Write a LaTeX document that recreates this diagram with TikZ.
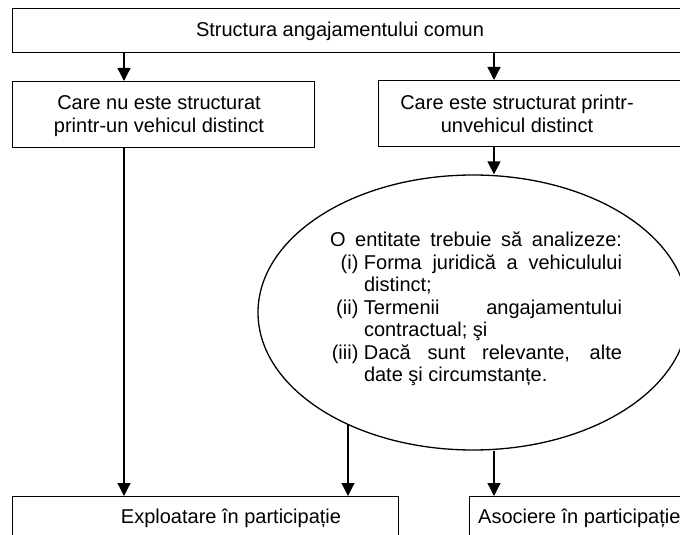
\documentclass[tikz,border=0pt]{standalone}
\usepackage{fontspec}
\setmainfont{Liberation Sans}
\usetikzlibrary{arrows.meta,shapes.geometric}
\begin{document}
\begin{tikzpicture}[x=1pt,y=-1pt,
  box/.style={draw, line width=1.3pt, inner sep=0pt, anchor=north west},
  txt/.style={font=\fontsize{20}{23}\selectfont, inner sep=0pt},
  arr/.style={-{Triangle[width=13pt,length=13pt]}, line width=1.3pt}]
\useasboundingbox (0,0) rectangle (680,535);
\clip (0,0) rectangle (680,535);
% boxes
\node[box, minimum width=678pt, minimum height=44pt] (top) at (12,8) {};
\node[box, minimum width=302pt, minimum height=66pt] (lb) at (12,81) {};
\node[box, minimum width=312pt, minimum height=66pt] (rb) at (378,80) {};
\node[box, minimum width=386pt, minimum height=60pt] (blb) at (12,496) {};
\node[box, minimum width=221pt, minimum height=60pt] (brb) at (469,496) {};
\node[draw, line width=1.3pt, ellipse, inner sep=0pt, minimum width=430pt, minimum height=275pt] (ell) at (473,312.5) {};
% texts
\node[txt, anchor=base] (toptxt) at (340,37) {Structura angajamentului comun};
\node[txt, align=center] (lbtxt) at (159,116) {Care nu este structurat\\printr-un vehicul distinct};
\node[txt, align=center] (rbtxt) at (517,114) {Care este structurat printr-\\unvehicul distinct};
\node[txt, anchor=base] (blbtxt) at (231,523) {Exploatare în participație};
\node[txt, anchor=base west] (brbtxt) at (478,523) {Asociere în participație};
\node[txt, font=\fontsize{20}{22.5}\selectfont, align=left] (elltxt) at (476,309) {%
\makebox[292pt][s]{O entitate trebuie să analizeze:}\\
\makebox[34pt][r]{(i)\ }\makebox[258pt][s]{Forma juridică a vehiculului}\\
\hspace*{34pt}distinct;\\
\makebox[34pt][r]{(ii)\ }\makebox[258pt][s]{Termenii angajamentului}\\
\hspace*{34pt}contractual; şi\\
\makebox[34pt][r]{(iii)\ }\makebox[258pt][s]{Dacă sunt relevante, alte}\\
\hspace*{34pt}date şi circumstanțe.};
% connectors
\coordinate (xL) at (124,0);
\coordinate (xR) at (494,0);
\draw[arr] (top.south -| xL) -- (lb.north -| xL);
\draw[arr] (top.south -| xR) -- (rb.north -| xR);
\draw[arr] (rb.south -| xR) -- (ell.north -| xR);
\draw[arr] (ell.south -| xR) -- (brb.north -| xR);
\draw[arr] (lb.south -| xL) -- (blb.north -| xL);
\draw[arr] (ell.222) -- (ell.222 |- blb.north);
\end{tikzpicture}
\end{document}
